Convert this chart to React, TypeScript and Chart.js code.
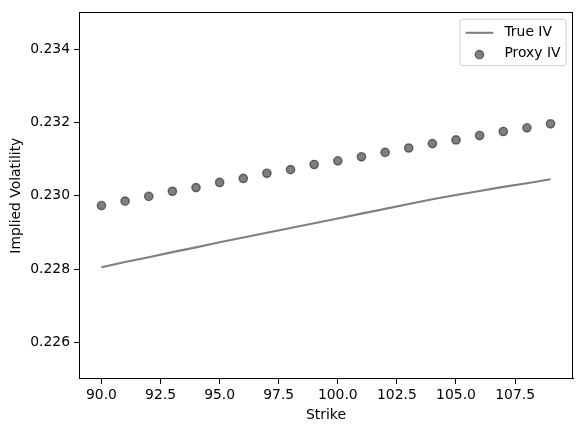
import React, { useEffect, useRef } from "react";
import { Chart, registerables } from "chart.js";

Chart.register(...registerables);

const strikes = [90, 91, 92, 93, 94, 95, 96, 97, 98, 99, 100, 101, 102, 103, 104, 105, 106, 107, 108, 109];
const trueIV = [
  0.22805, 0.22819, 0.22832, 0.22846, 0.22859, 0.22873, 0.22886, 0.22899, 0.22912, 0.22925,
  0.22938, 0.22951, 0.22964, 0.22977, 0.2299, 0.23002, 0.23013, 0.23024, 0.23034, 0.23045,
];
const proxyIV = [
  0.22973, 0.22985, 0.22998, 0.23012, 0.23022, 0.23036, 0.23047, 0.23061, 0.23071, 0.23085,
  0.23095, 0.23106, 0.23118, 0.2313, 0.23142, 0.23152, 0.23164, 0.23175, 0.23185, 0.23196,
];
const xTicks = [90, 92.5, 95, 97.5, 100, 102.5, 105, 107.5];
const yTicks = [0.226, 0.228, 0.23, 0.232, 0.234];
const seriesLabels = ["True IV", "Proxy IV"];
const axisTitles = { x: "Strike", y: "Implied Volatility" };

const FONT = "DejaVu Sans";
const FS = 13.9;
const SERIES_COLOR = "rgba(0,0,0,0.5)";

const framePlugin = {
  id: "frame",
  afterDraw(chart: any) {
    const { ctx, chartArea } = chart;
    ctx.save();
    ctx.strokeStyle = "#000";
    ctx.lineWidth = 1;
    ctx.strokeRect(
      Math.round(chartArea.left) + 0.5,
      Math.round(chartArea.top) + 0.5,
      Math.round(chartArea.right - chartArea.left) - 1,
      Math.round(chartArea.bottom - chartArea.top) - 1
    );
    ctx.restore();
  },
};

const legendPlugin = {
  id: "mplLegend",
  afterDraw(chart: any) {
    const { ctx, chartArea } = chart;
    const labels = chart.data.datasets.map((d: any) => d.label);
    ctx.save();
    ctx.font = `${FS}px "${FONT}"`;
    const textW = Math.max(...labels.map((l: string) => ctx.measureText(l).width));
    const pad = 0.4 * FS;
    const handleLen = 2 * FS;
    const handlePad = 0.8 * FS;
    const w = pad + handleLen + handlePad + textW + pad;
    const rowH = FS;
    const rowGap = 0.5 * FS;
    const h = pad * 2 + rowH * 2 + rowGap + 0.6;
    const right = chartArea.right - 0.5 * FS;
    const top = chartArea.top + 0.5 * FS;
    const left = right - w;
    const r = 0.2 * FS;
    ctx.beginPath();
    ctx.moveTo(left + r, top);
    ctx.lineTo(right - r, top);
    ctx.arcTo(right, top, right, top + r, r);
    ctx.lineTo(right, top + h - r);
    ctx.arcTo(right, top + h, right - r, top + h, r);
    ctx.lineTo(left + r, top + h);
    ctx.arcTo(left, top + h, left, top + h - r, r);
    ctx.lineTo(left, top + r);
    ctx.arcTo(left, top, left + r, top, r);
    ctx.closePath();
    ctx.fillStyle = "rgba(255,255,255,0.8)";
    ctx.fill();
    ctx.strokeStyle = "#cccccc";
    ctx.lineWidth = 1;
    ctx.stroke();

    const hx0 = left + pad;
    const hx1 = hx0 + handleLen;
    const tx = hx1 + handlePad;
    const y1 = top + pad + rowH / 2 + 1;
    const y2 = y1 + rowH + rowGap;

    // line handle
    ctx.strokeStyle = SERIES_COLOR;
    ctx.lineWidth = 2.08;
    ctx.beginPath();
    ctx.moveTo(hx0, y1);
    ctx.lineTo(hx1, y1);
    ctx.stroke();

    // marker handle
    ctx.beginPath();
    ctx.arc((hx0 + hx1) / 2, y2 + 1, 4.17, 0, Math.PI * 2);
    ctx.fillStyle = SERIES_COLOR;
    ctx.fill();
    ctx.lineWidth = 1.39;
    ctx.strokeStyle = SERIES_COLOR;
    ctx.stroke();

    ctx.fillStyle = "#000";
    ctx.textBaseline = "middle";
    ctx.textAlign = "left";
    ctx.fillText(labels[0], tx, y1);
    ctx.fillText(labels[1], tx, y2);
    ctx.restore();
  },
};

export default function App() {
  const ref = useRef<HTMLCanvasElement | null>(null);

  useEffect(() => {
    if (!ref.current) return;
    const chart = new Chart(ref.current, {
      type: "scatter",
      data: {
        datasets: [
          {
            type: "line",
            label: seriesLabels[0],
            data: strikes.map((s, i) => ({ x: s, y: trueIV[i] })),
            borderColor: SERIES_COLOR,
            borderWidth: 2.08,
            pointRadius: 0,
            fill: false,
            tension: 0,
          } as any,
          {
            type: "scatter",
            label: seriesLabels[1],
            data: strikes.map((s, i) => ({ x: s, y: proxyIV[i] })),
            backgroundColor: SERIES_COLOR,
            borderColor: SERIES_COLOR,
            borderWidth: 1.39,
            pointRadius: 4.17,
            pointHoverRadius: 4.17,
          },
        ],
      },
      options: {
        responsive: false,
        animation: false,
        devicePixelRatio: 1,
        layout: { padding: { top: 9, right: 11, left: 0, bottom: 0 } },
        plugins: {
          legend: { display: false },
          tooltip: { enabled: false },
        },
        scales: {
          x: {
            type: "linear",
            min: 89.05,
            max: 109.95,
            afterFit(scale: any) {
              scale.height = 53;
            },
            afterBuildTicks(scale: any) {
              scale.ticks = xTicks.map((v) => ({ value: v }));
            },
            grid: {
              display: true,
              drawOnChartArea: false,
              drawTicks: true,
              tickLength: 5,
              tickColor: "#000",
              tickWidth: 1,
            },
            border: { display: true, color: "#000", width: 1 },
            ticks: {
              color: "#000",
              padding: 3,
              maxRotation: 0,
              autoSkip: false,
              font: { family: FONT, size: FS },
              callback: (v: any) => Number(v).toFixed(1),
            },
            title: {
              display: true,
              text: axisTitles.x,
              color: "#000",
              font: { family: FONT, size: FS },
              padding: { top: 0, bottom: 8.6 },
            },
          },
          y: {
            type: "linear",
            min: 0.225,
            max: 0.235,
            afterFit(scale: any) {
              scale.width = 79;
            },
            afterBuildTicks(scale: any) {
              scale.ticks = yTicks.map((v) => ({ value: v }));
            },
            grid: {
              display: true,
              drawOnChartArea: false,
              drawTicks: true,
              tickLength: 5,
              tickColor: "#000",
              tickWidth: 1,
            },
            border: { display: true, color: "#000", width: 1 },
            ticks: {
              color: "#000",
              padding: 4,
              autoSkip: false,
              font: { family: FONT, size: FS },
              callback: (v: any) => Number(v).toFixed(3),
            },
            title: {
              display: true,
              text: axisTitles.y,
              color: "#000",
              font: { family: FONT, size: FS },
              padding: { top: 7.6, bottom: 0 },
            },
          },
        },
      },
      plugins: [framePlugin, legendPlugin],
    });
    return () => chart.destroy();
  }, []);

  return (
    <div style={{ position: "absolute", left: 0, top: 0, width: 584, height: 432, background: "#fff" }}>
      <canvas ref={ref} width={584} height={432} style={{ width: 584, height: 432 }} />
    </div>
  );
}
